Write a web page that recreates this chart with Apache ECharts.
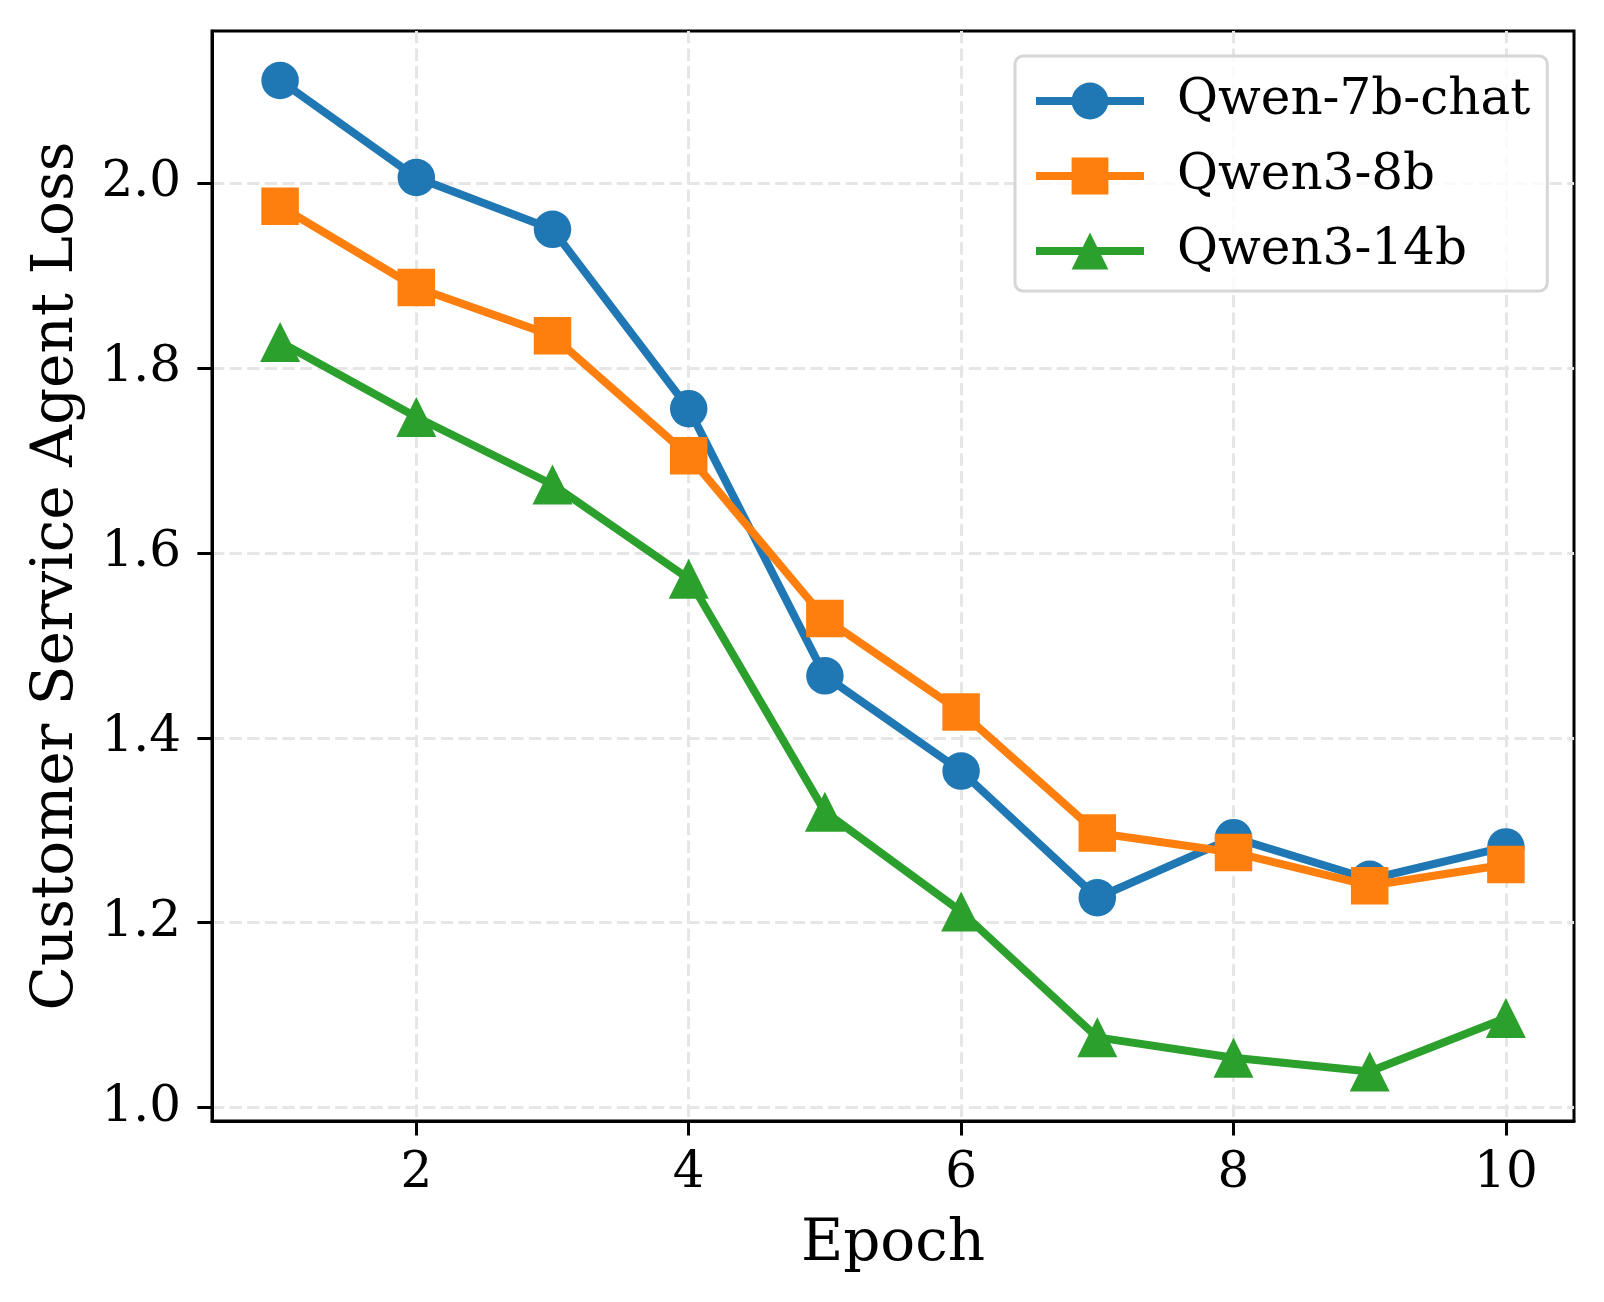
<!DOCTYPE html>
<html><head><meta charset="utf-8">
<script src="https://cdn.jsdelivr.net/npm/echarts@6/dist/echarts.min.js"></script>
<style>html,body{margin:0;padding:0;background:#fff}#c{width:1604px;height:1302px}</style>
</head><body><div id="c"></div>
<script>
const epochs = [1, 2, 3, 4, 5, 6, 7, 8, 9, 10];
const qwen7bChat = [2.111, 2.006, 1.950, 1.756, 1.467, 1.364, 1.227, 1.292, 1.247, 1.282];
const qwen3_8b = [1.975, 1.887, 1.835, 1.705, 1.529, 1.428, 1.297, 1.276, 1.240, 1.263];
const qwen3_14b = [1.828, 1.747, 1.674, 1.572, 1.320, 1.212, 1.076, 1.054, 1.039, 1.097];
const seriesNames = ['Qwen-7b-chat', 'Qwen3-8b', 'Qwen3-14b'];
const xTicks = [2, 4, 6, 8, 10];
const yTicks = [1.0, 1.2, 1.4, 1.6, 1.8, 2.0];
const xLabel = 'Epoch';
const yLabel = 'Customer Service Agent Loss';

const FONT = 'DejaVu Serif';
const colors = ['#1f77b4', '#ff7f0e', '#2ca02c'];
const symbols = ['circle', 'rect', 'triangle'];
const symbolSizes = [37.5, 37.5, [40, 40]];
const values = [qwen7bChat, qwen3_8b, qwen3_14b];

const chart = echarts.init(document.getElementById('c'), null, {renderer: 'canvas'});
const gridLine = {show: true, lineStyle: {color: '#e6e6e6', width: 3, type: [12.3, 5.3]}};

chart.setOption({
  animation: false,
  backgroundColor: '#fff',
  textStyle: {fontFamily: FONT},
  grid: {left: 212, right: 30, top: 31, bottom: 181, show: true, borderColor: '#000', borderWidth: 3, backgroundColor: 'transparent'},
  xAxis: {
    type: 'value', min: 0.5, max: 10.5,
    name: xLabel, nameLocation: 'middle', nameGap: 95,
    nameTextStyle: {fontFamily: FONT, fontSize: 58, color: '#000'},
    axisLine: {show: true, lineStyle: {color: '#000', width: 3}},
    axisTick: {show: true, inside: false, length: 14.6, lineStyle: {color: '#000', width: 3}, customValues: xTicks},
    axisLabel: {fontFamily: FONT, fontSize: 50, color: '#000', margin: 28, customValues: xTicks, formatter: v => String(v)},
    splitLine: gridLine
  },
  yAxis: {
    type: 'value', min: 0.9855, max: 2.1645,
    name: yLabel, nameLocation: 'middle', nameGap: 126,
    nameTextStyle: {fontFamily: FONT, fontSize: 58, color: '#000'},
    axisLine: {show: true, lineStyle: {color: '#000', width: 3}},
    axisTick: {show: true, inside: false, length: 14.6, lineStyle: {color: '#000', width: 3}, customValues: yTicks},
    axisLabel: {fontFamily: FONT, fontSize: 50, color: '#000', margin: 31, customValues: yTicks, formatter: v => Number(v).toFixed(1)},
    splitLine: gridLine
  },
  legend: {
    orient: 'vertical', left: 1015, top: 56,
    padding: [20, 17, 15, 17],
    itemWidth: 108, itemHeight: 46, itemGap: 25,
    backgroundColor: 'rgba(255,255,255,0.8)', borderColor: '#d6d6d6', borderWidth: 3, borderRadius: 8,
    lineStyle: {width: 8},
    textStyle: {fontFamily: FONT, fontSize: 50, color: '#000', padding: [0, 0, 0, 28]},
    data: seriesNames
  },
  series: seriesNames.map((name, i) => ({
    name, type: 'line',
    data: epochs.map((e, j) => [e, values[i][j]]),
    symbol: symbols[i], symbolSize: symbolSizes[i],
    showAllSymbol: true,
    lineStyle: {color: colors[i], width: 8},
    itemStyle: {color: colors[i], borderWidth: 0},
    z: 2 + i
  }))
});
</script></body></html>
